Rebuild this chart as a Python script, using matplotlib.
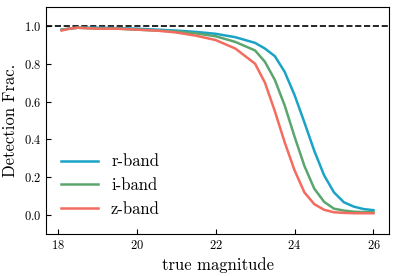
import matplotlib
matplotlib.use('Agg')
import matplotlib.pyplot as plt

plt.rcParams['font.family'] = 'serif'
plt.rcParams['font.serif'] = ['cmr10', 'DejaVu Serif']
plt.rcParams['mathtext.fontset'] = 'cm'
plt.rcParams['axes.formatter.use_mathtext'] = True

# magnitude grid and detection fractions per band
mag = [18.1, 18.3, 18.5, 19.0, 19.5, 20.0, 20.5, 21.0, 21.5, 22.0, 22.5, 23.0,
       23.25, 23.5, 23.75, 24.0, 24.25, 24.5, 24.75, 25.0, 25.25, 25.5, 25.75, 26.0]
r_band = [0.98, 0.985, 0.99, 0.99, 0.988, 0.985, 0.98, 0.975, 0.968, 0.958, 0.94, 0.91,
          0.88, 0.84, 0.757, 0.635, 0.49, 0.34, 0.21, 0.12, 0.068, 0.045, 0.032, 0.026]
i_band = [0.98, 0.985, 0.99, 0.985, 0.985, 0.98, 0.975, 0.97, 0.96, 0.945, 0.915, 0.87,
          0.81, 0.715, 0.58, 0.415, 0.26, 0.14, 0.07, 0.034, 0.024, 0.018, 0.016, 0.015]
z_band = [0.975, 0.985, 0.99, 0.985, 0.985, 0.98, 0.975, 0.965, 0.948, 0.925, 0.88, 0.80,
          0.70, 0.55, 0.385, 0.237, 0.12, 0.058, 0.028, 0.015, 0.012, 0.01, 0.01, 0.01]

fig = plt.figure(figsize=(3.97, 2.76), dpi=100)
ax = fig.add_axes([0.116, 0.152, 0.864, 0.823])

ax.axhline(1.0, color='k', ls='--', lw=1.2)
ax.plot(mag, r_band, color='#1ba3c6', lw=1.8, label='r-band')
ax.plot(mag, i_band, color='#5ba56e', lw=1.8, label='i-band')
ax.plot(mag, z_band, color='#f36c5f', lw=1.8, label='z-band')

ax.set_ylim(-0.1, 1.1)
ax.set_xticks([18, 20, 22, 24, 26])
ax.set_yticks([0.0, 0.2, 0.4, 0.6, 0.8, 1.0])
ax.tick_params(direction='in', labelsize=9)
ax.set_xlabel('true magnitude', fontsize=12)
ax.set_ylabel('Detection Frac.', fontsize=12)
ax.legend(loc='lower left', frameon=False, fontsize=12, handlelength=2.2,
          bbox_to_anchor=(0.0, 0.01))

fig.savefig('out.png', dpi=100)
